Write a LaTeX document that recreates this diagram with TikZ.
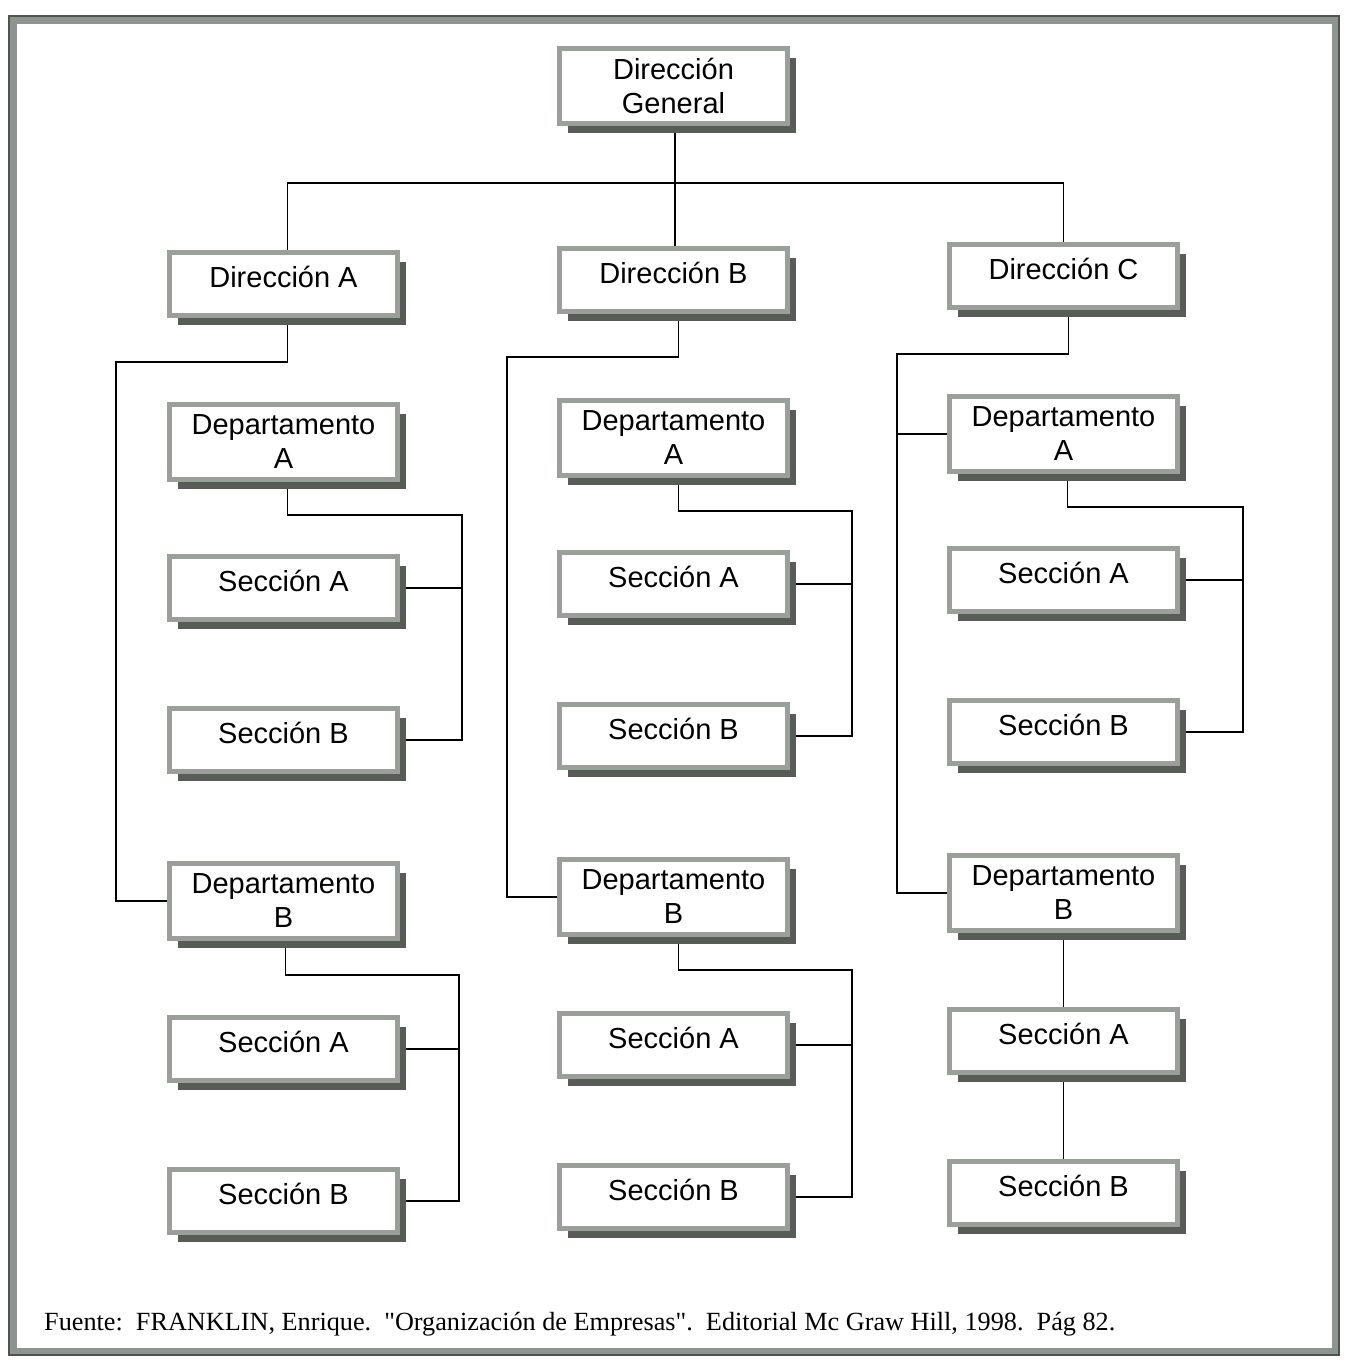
\documentclass[tikz,border=0pt]{standalone}
\usepackage{fontspec}
\usepackage{graphicx}
\setmainfont{Liberation Serif}
\newfontfamily\boxfont{Liberation Sans}
\usetikzlibrary{backgrounds,shadows}

\definecolor{framegray}{HTML}{8E948F}
\definecolor{framedark}{HTML}{4F544F}
\definecolor{bordergray}{HTML}{9A9F9A}
\definecolor{shadowgray}{HTML}{575C57}

% straight double quote, set as a glyph so no text mapping curls it
\newcommand{\straightquote}{\XeTeXglyph\XeTeXcharglyph"22\relax}

\tikzset{
  box/.style={draw=bordergray, line width=5pt, fill=white,
    minimum width=228pt, inner sep=0pt, align=center,
    font=\boxfont\fontsize{29}{34}\selectfont,
    drop shadow={shadow xshift=8pt, shadow yshift=-9pt,
      fill=shadowgray, opacity=1}},
  one/.style={box, minimum height=63pt, text height=22pt, text depth=15pt},
  two/.style={box, minimum height=75pt},
  link/.style={draw=black, line width=1.8pt}
}

\begin{document}
\begin{tikzpicture}[x=1pt, y=-1pt]
  \useasboundingbox (0,0) rectangle (1348,1360);

  % outer frame
  \draw[framegray, line width=7pt] (13,20) rectangle (1335,1351);
  \draw[framedark, line width=1.2pt] (9,16) rectangle (1339,1355);

  % top level
  \node[two] (g) at (673.5,86) {Dirección\\General};

  % column A
  \node[one] (a)   at (283.5,284)  {Dirección A};
  \node[two] (aA)  at (283.5,442)  {Departamento\\A};
  \node[one] (aAa) at (283.5,588)  {Sección A};
  \node[one] (aAb) at (283.5,740)  {Sección B};
  \node[two] (aB)  at (283.5,901)  {Departamento\\B};
  \node[one] (aBa) at (283.5,1049) {Sección A};
  \node[one] (aBb) at (283.5,1201) {Sección B};

  % column B
  \node[one] (b)   at (673.5,280)  {Dirección B};
  \node[two] (bA)  at (673.5,438)  {Departamento\\A};
  \node[one] (bAa) at (673.5,584)  {Sección A};
  \node[one] (bAb) at (673.5,736)  {Sección B};
  \node[two] (bB)  at (673.5,897)  {Departamento\\B};
  \node[one] (bBa) at (673.5,1045) {Sección A};
  \node[one] (bBb) at (673.5,1197) {Sección B};

  % column C
  \node[one] (c)   at (1063.5,276)  {Dirección C};
  \node[two] (cA)  at (1063.5,434)  {Departamento\\A};
  \node[one] (cAa) at (1063.5,580)  {Sección A};
  \node[one] (cAb) at (1063.5,732)  {Sección B};
  \node[two] (cB)  at (1063.5,893)  {Departamento\\B};
  \node[one] (cBa) at (1063.5,1041) {Sección A};
  \node[one] (cBb) at (1063.5,1193) {Sección B};

  % bend points of the connectors
  \coordinate (bus) at (675,183);
  \coordinate (aL)  at (116,362);
  \coordinate (bL)  at (507,357);
  \coordinate (cL)  at (897,354);
  \coordinate (aAr) at (462,515);
  \coordinate (aBr) at (459,975);
  \coordinate (bAr) at (852,511);
  \coordinate (bBr) at (852,970);
  \coordinate (cAr) at (1243,507);

  \begin{pgfonlayer}{background}
    \fill[white] (0,0) rectangle (1348,1360);

    % general direction to the three directions
    \draw[link] (g.south -| bus) -- (bus) -- (b.north -| bus);
    \draw[link] ([xshift=4pt]a.north) |- (bus) -| (c.north);

    % directions to departments
    \draw[link] ([xshift=4pt]a.south) |- (aL) |- (aB.west);
    \draw[link] ([xshift=5pt]b.south) |- (bL) |- (bB.west);
    \draw[link] ([xshift=5pt]c.south) |- (cL) |- (cB.west);
    \draw[link] (cL |- cA.west) -- (cA.west);

    % departments to sections
    \draw[link] ([xshift=4pt]aA.south) |- (aAr) |- (aAb.east);
    \draw[link] (aAa.east) -- (aAa.east -| aAr);
    \draw[link] ([xshift=2pt]aB.south) |- (aBr) |- (aBb.east);
    \draw[link] (aBa.east) -- (aBa.east -| aBr);

    \draw[link] ([xshift=5pt]bA.south) |- (bAr) |- (bAb.east);
    \draw[link] (bAa.east) -- (bAa.east -| bAr);
    \draw[link] ([xshift=5pt]bB.south) |- (bBr) |- (bBb.east);
    \draw[link] (bBa.east) -- (bBa.east -| bBr);

    \draw[link] ([xshift=4pt]cA.south) |- (cAr) |- (cAb.east);
    \draw[link] (cAa.east) -- (cAa.east -| cAr);
    \draw[link] (cB.south) -- (cBa.north);
    \draw[link] (cBa.south) -- (cBb.north);
  \end{pgfonlayer}

  % source note
  \node[anchor=base west, inner sep=0pt] (src) at (44,1330)
    {\resizebox{1071pt}{!}{\fontsize{26}{30}\selectfont Fuente:\ \ FRANKLIN, Enrique.\ \ \straightquote Organización de Empresas\straightquote.\ \ Editorial Mc Graw Hill, 1998.\ \ Pág 82.}};
\end{tikzpicture}
\end{document}
